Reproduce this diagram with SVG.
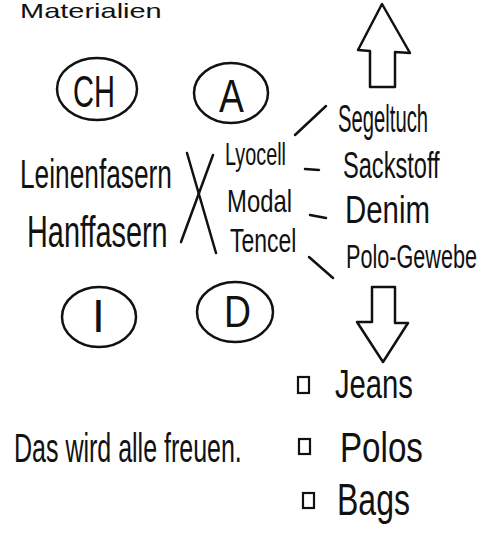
<svg xmlns="http://www.w3.org/2000/svg" width="481" height="534" viewBox="0 0 481 534">
<style>
.t{font-family:"Liberation Sans",Arial,sans-serif;fill:#111;}
.s{fill:none;stroke:#111;stroke-width:2.5;stroke-linecap:round;stroke-linejoin:round;}
.b{fill:none;stroke:#111;stroke-width:2.2;}
</style>
<rect width="481" height="534" fill="#fff"/>
<g id="title"><text class="t" transform="translate(20,18) scale(1.45,1)" font-size="20">Materialien</text></g>
<g id="node-ch"><ellipse class="s" cx="97" cy="89" rx="40" ry="31"/><text class="t" transform="translate(73,107) scale(0.646,1)" font-size="45">CH</text></g>
<g id="node-a"><ellipse class="s" cx="231" cy="93" rx="37" ry="30"/><text class="t" transform="translate(219,112) scale(0.81,1)" font-size="46">A</text></g>
<g id="node-i"><ellipse class="s" cx="99" cy="317" rx="37" ry="30"/><text class="t" x="92" y="332" font-size="46">I</text></g>
<g id="node-d"><ellipse class="s" cx="235" cy="312" rx="38" ry="30"/><text class="t" transform="translate(224,327) scale(0.83,1)" font-size="45">D</text></g>
<g id="node-leinen"><text class="t" transform="translate(20,188) scale(0.641,1)" font-size="41">Leinenfasern</text></g>
<g id="node-hanf"><text class="t" transform="translate(27,247) scale(0.656,1)" font-size="44">Hanffasern</text></g>
<g id="node-lyocell"><text class="t" transform="translate(225,165) scale(0.62,1)" font-size="32">Lyocell</text></g>
<g id="node-modal"><text class="t" transform="translate(227,212) scale(0.746,1)" font-size="32">Modal</text></g>
<g id="node-tencel"><text class="t" transform="translate(230,252) scale(0.676,1)" font-size="34">Tencel</text></g>
<g id="node-segeltuch"><text class="t" transform="translate(338,132) scale(0.533,1)" font-size="38">Segeltuch</text></g>
<g id="node-sackstoff"><text class="t" transform="translate(343,178) scale(0.638,1)" font-size="37">Sackstoff</text></g>
<g id="node-denim"><text class="t" transform="translate(345,223) scale(0.754,1)" font-size="39">Denim</text></g>
<g id="node-polo-gewebe"><text class="t" transform="translate(346,268) scale(0.636,1)" font-size="34">Polo-Gewebe</text></g>
<g id="node-jeans"><rect class="b" x="298" y="377" width="11" height="16"/><text class="t" transform="translate(335,398) scale(0.731,1)" font-size="40">Jeans</text></g>
<g id="node-polos"><rect class="b" x="299" y="439" width="11" height="15"/><text class="t" transform="translate(340,462) scale(0.79,1)" font-size="42">Polos</text></g>
<g id="node-bags"><rect class="b" x="303" y="493" width="11" height="15"/><text class="t" transform="translate(337,515) scale(0.728,1)" font-size="44">Bags</text></g>
<g id="node-note"><text class="t" transform="translate(14,462) scale(0.625,1)" font-size="40">Das wird alle freuen.</text></g>
<g id="connectors">
<line class="s" x1="187" y1="153" x2="216" y2="253"/>
<line class="s" x1="213" y1="155" x2="181" y2="242"/>
<line class="s" x1="295" y1="135" x2="326" y2="106"/>
<line class="s" x1="305" y1="169" x2="319" y2="170"/>
<line class="s" x1="310" y1="215" x2="326" y2="218"/>
<line class="s" x1="309" y1="257" x2="333" y2="278"/>
<polygon class="s" points="382,4 358,50 370,51 370,87 395,87 395,52 410,53"/>
<polygon class="s" points="372,287 395,287 395,323 408,323 383,362 357,322 372,322"/>
</g>
</svg>
